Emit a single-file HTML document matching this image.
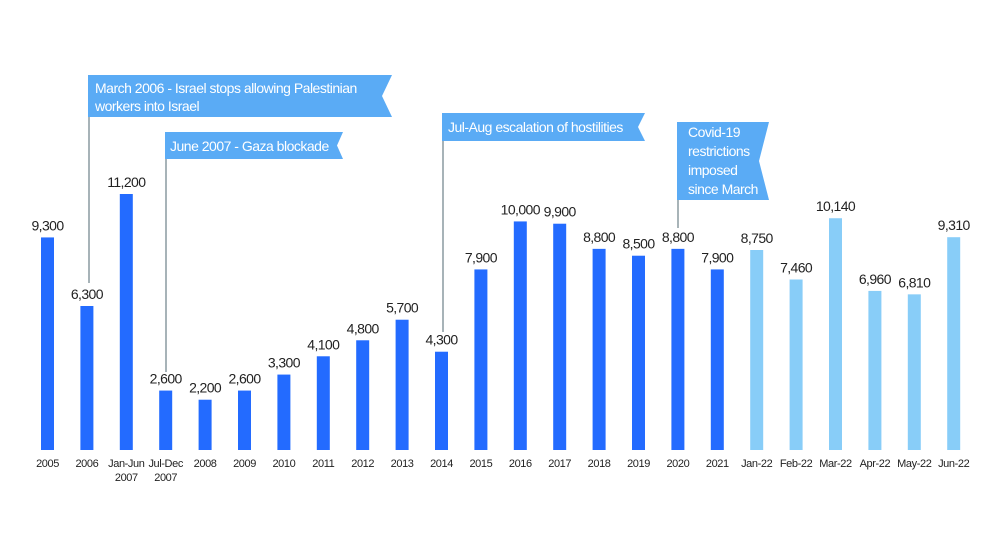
<!DOCTYPE html>
<html><head><meta charset="utf-8"><style>
body{margin:0;background:#fff;}
svg{display:block;font-family:"Liberation Sans Narrow","Liberation Sans",sans-serif;}
.v{font-size:14px;fill:#222;text-anchor:middle;letter-spacing:-0.6px}
.c{font-size:11px;fill:#222;text-anchor:middle;letter-spacing:-0.4px}
.f{font-size:14px;fill:#fff;letter-spacing:-0.5px}
</style></head><body>
<svg id="chart" width="1000" height="554" viewBox="0 0 1000 554">
<g id="ann">
 <line x1="89" y1="75" x2="89" y2="283" stroke="#8a9aa0" stroke-width="1.5"/>
 <polygon points="88,75 392,75 382,96 392,117 88,117" fill="#5aabf5"/>
 <text class="f" x="95" y="93">March 2006 - Israel stops allowing Palestinian</text>
 <text class="f" x="95" y="111">workers into Israel</text>
 <line x1="166" y1="132" x2="166" y2="372" stroke="#8a9aa0" stroke-width="1.5"/>
 <polygon points="165,132 343,132 337,145.5 343,159 165,159" fill="#5aabf5"/>
 <text class="f" x="170" y="151">June 2007 - Gaza blockade</text>
 <line x1="443" y1="113" x2="443" y2="332" stroke="#8a9aa0" stroke-width="1.5"/>
 <polygon points="442,113 645,113 638,127 645,141 442,141" fill="#5aabf5"/>
 <text class="f" x="448" y="132">Jul-Aug escalation of hostilities</text>
 <line x1="678" y1="122" x2="678" y2="228" stroke="#8a9aa0" stroke-width="1.5"/>
 <polygon points="677,122 769,122 759,161 769,200 677,200" fill="#5aabf5"/>
 <text class="f" x="688" y="137">Covid-19</text>
 <text class="f" x="688" y="156">restrictions</text>
 <text class="f" x="688" y="175">imposed</text>
 <text class="f" x="688" y="194">since March</text>
</g>
<g id="bars"></g>
</svg>
<script>
const categories=["2005","2006","Jan-Jun|2007","Jul-Dec|2007","2008","2009","2010","2011","2012","2013","2014","2015","2016","2017","2018","2019","2020","2021","Jan-22","Feb-22","Mar-22","Apr-22","May-22","Jun-22"];
const values=[9300,6300,11200,2600,2200,2600,3300,4100,4800,5700,4300,7900,10000,9900,8800,8500,8800,7900,8750,7460,10140,6960,6810,9310];
const monthly=[0,0,0,0,0,0,0,0,0,0,0,0,0,0,0,0,0,0,1,1,1,1,1,1];
const xs=i=>47.5+i*39.4;
const y=v=>450-v*256/11200;
const g=document.getElementById('bars');
const NS='http://www.w3.org/2000/svg';
categories.forEach((c,i)=>{
 const r=document.createElementNS(NS,'rect');
 
 
 r.setAttribute('x',xs(i)-6.5);r.setAttribute('width',13);
 r.setAttribute('y',y(values[i]));r.setAttribute('height',450-y(values[i]));
 r.setAttribute('fill',monthly[i]?'#88cdf8':'#236bff');
 g.appendChild(r);
 const t=document.createElementNS(NS,'text');
 
 
 t.setAttribute('class','v');t.setAttribute('x',xs(i));t.setAttribute('y',y(values[i])-7);
 t.textContent=values[i].toLocaleString('en-US');
 g.appendChild(t);
 c.split('|').forEach((p,k)=>{
  const l=document.createElementNS(NS,'text');
  
  
  l.setAttribute('class','c');l.setAttribute('x',xs(i));l.setAttribute('y',467+k*14);
  l.textContent=p;g.appendChild(l);
 });
});
</script>
</body></html>
